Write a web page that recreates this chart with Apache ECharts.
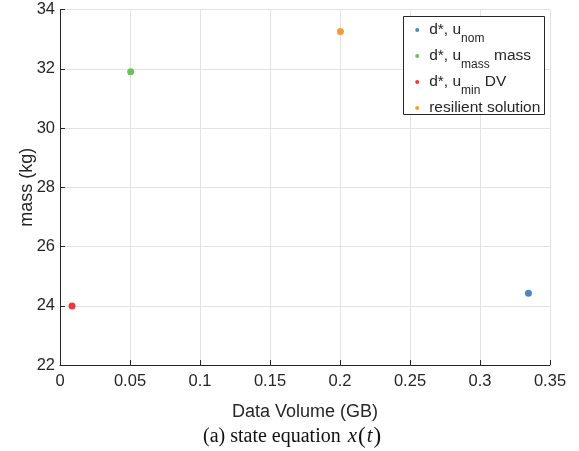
<!DOCTYPE html>
<html>
<head>
<meta charset="utf-8">
<script src="https://cdn.jsdelivr.net/npm/echarts@6/dist/echarts.min.js"></script>
<style>
html,body{margin:0;padding:0;background:#fff;}
#c{width:579px;height:451px;}
</style>
</head>
<body>
<div id="c"></div>
<script>
// Data
var seriesNames = ['d*, u_nom', 'd*, u_mass mass', 'd*, u_min DV', 'resilient solution'];
var seriesColors = ['#4f86bb', '#6cc15a', '#e9393e', '#f99c35'];
var dataVolume = [0.3346, 0.0505, 0.0086, 0.2003];
var massKg = [24.42, 31.90, 23.99, 33.26];
var xTicks = [0, 0.05, 0.1, 0.15, 0.2, 0.25, 0.3, 0.35];
var yTicks = [22, 24, 26, 28, 30, 32, 34];

var legendLabels = {
  'd*, u_nom': '{m|d*, u}{s|nom}',
  'd*, u_mass mass': '{m|d*, u}{s|mass}{m| mass}',
  'd*, u_min DV': '{m|d*, u}{s|min}{m| DV}',
  'resilient solution': '{m|resilient solution}'
};

var chart = echarts.init(document.getElementById('c'), null, {renderer: 'canvas'});
var FONT = '"Liberation Sans", Arial, Helvetica, sans-serif';
var SERIF = '"Liberation Serif", "Times New Roman", serif';
var axisColor = '#262626';

var series = seriesNames.map(function (name, i) {
  return {
    name: name,
    type: 'scatter',
    symbol: 'circle',
    symbolSize: 7,
    itemStyle: {color: seriesColors[i], opacity: 1},
    data: [[dataVolume[i], massKg[i]]]
  };
});

chart.setOption({
  animation: false,
  backgroundColor: '#fff',
  textStyle: {fontFamily: FONT},
  grid: {left: 60, right: 29, top: 9.5, bottom: 86, containLabel: false},
  xAxis: {
    type: 'value',
    min: xTicks[0], max: xTicks[xTicks.length - 1], interval: 0.05,
    name: 'Data Volume (GB)', nameLocation: 'middle', nameGap: 38, nameMoveOverlap: false,
    nameTextStyle: {fontFamily: FONT, fontSize: 18, color: axisColor},
    axisLine: {show: true, onZero: false, lineStyle: {color: axisColor, width: 1}},
    axisTick: {show: true, inside: true, length: 5, lineStyle: {color: axisColor}},
    axisLabel: {fontFamily: FONT, fontSize: 16.5, color: axisColor, margin: 8,
      formatter: function (v) { return String(+v.toFixed(2)); }},
    splitLine: {show: true, lineStyle: {color: '#e3e3e3', width: 1}}
  },
  yAxis: {
    type: 'value',
    min: yTicks[0], max: yTicks[yTicks.length - 1], interval: 2,
    name: 'mass (kg)', nameLocation: 'middle', nameGap: 24, nameMoveOverlap: false,
    nameTextStyle: {fontFamily: FONT, fontSize: 18, color: axisColor},
    axisLine: {show: true, onZero: false, lineStyle: {color: axisColor, width: 1}},
    axisTick: {show: true, inside: true, length: 5, lineStyle: {color: axisColor}},
    axisLabel: {fontFamily: FONT, fontSize: 16.5, color: axisColor, margin: 5},
    splitLine: {show: true, lineStyle: {color: '#e3e3e3', width: 1}}
  },
  legend: {
    orient: 'vertical',
    left: 415.2, top: 22,
    padding: 0,
    itemGap: 3,
    itemWidth: 14, itemHeight: 4,
    symbolKeepAspect: true,
    icon: 'circle',
    data: seriesNames,
    formatter: function (name) { return legendLabels[name]; },
    textStyle: {
      fontFamily: FONT, color: axisColor,
      rich: {
        m: {fontFamily: FONT, fontSize: 15.5, color: axisColor, lineHeight: 30, verticalAlign: 'middle'},
        s: {fontFamily: FONT, fontSize: 12, color: axisColor, lineHeight: 30, verticalAlign: 'bottom'}
      }
    }
  },
  graphic: [{
    type: 'rect',
    silent: true,
    z: 1,
    shape: {x: 403.5, y: 16.5, width: 141, height: 98},
    style: {fill: '#fff', stroke: axisColor, lineWidth: 1}
  }, {
    type: 'text',
    left: 203,
    top: 425,
    style: {
      text: '{r|(a) state equation}{i|x}{p|(}{t|t}{p|)}',
      rich: {
        r: {fontFamily: SERIF, fontSize: 20, fill: '#111'},
        i: {fontFamily: SERIF, fontSize: 21, fontStyle: 'italic', fill: '#111', padding: [0, 1, 0, 7]},
        t: {fontFamily: SERIF, fontSize: 21, fontStyle: 'italic', fill: '#111', padding: [0, 1, 0, 1]},
        p: {fontFamily: SERIF, fontSize: 23, fill: '#111', padding: [0, 0, 0, 0]}
      }
    }
  }],
  series: series
});
</script>
</body>
</html>
